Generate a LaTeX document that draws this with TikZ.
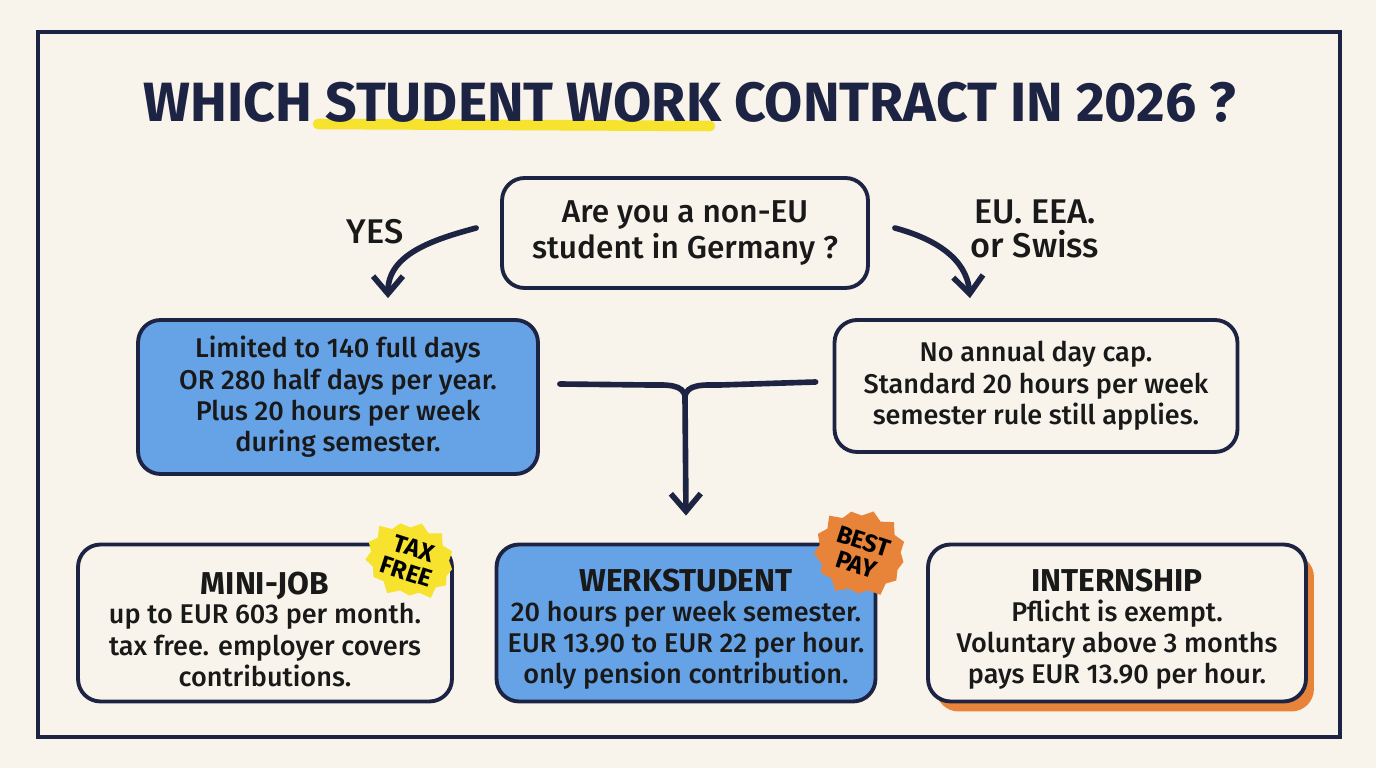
\documentclass[tikz,border=0pt]{standalone}
\usepackage{fontspec}
\setmainfont{Fira Sans}[UprightFont={* Medium}, BoldFont={* Bold}]
\usetikzlibrary{positioning,arrows.meta,shapes.symbols,shadows}

\definecolor{paper}{HTML}{F8F4EB}
\definecolor{ink}{HTML}{1D2342}
\definecolor{skyblue}{HTML}{66A2E6}
\definecolor{marker}{HTML}{F7E22E}
\definecolor{tangerine}{HTML}{E8843A}

\newcommand{\bodyfont}{\fontsize{15.4}{17.8}\selectfont}
\newcommand{\headfont}{\fontsize{18}{20}\selectfont\bfseries\rule{0pt}{20pt}}

\tikzset{
  card/.style={draw=ink, line width=2.2pt, rounded corners=.45cm, align=center,
    text=black!90, font=\bodyfont, inner sep=0pt},
  bluecard/.style={card, fill=skyblue},
  tag/.style={align=center, text=black!90, font=\fontsize{19.5}{19.5}\selectfont},
  flow/.style={draw=ink, line width=3.2pt, line cap=round,
    -{Straight Barb[length=10pt, width=17pt]}},
  merge/.style={draw=ink, line width=3.2pt, line cap=round},
  badge/.style={starburst, starburst points=13, starburst point height=.18cm,
    align=center, inner sep=1pt, font=\fontsize{14}{14}\selectfont\bfseries}
}

\begin{document}
\begin{tikzpicture}[x=0.02cm, y=0.02cm]
  % 1. paper and frame
  \fill[paper] (0,0) rectangle (1376,768);
  \useasboundingbox (0,0) rectangle (1376,768);
  \draw[ink, line width=2.4pt] (38,736) rectangle (1340,31);

  % 2. title with marker stroke
  \draw[marker, line width=6pt, line cap=round] (318,644) -- (710,642);
  \node[text=ink, font=\fontsize{31.5}{34}\selectfont\bfseries] (title) at (690,666)
    {WHICH STUDENT WORK CONTRACT IN 2026 ?};

  % 3. question and the two answers
  \node[card, font=\fontsize{18}{20.5}\selectfont, minimum width=7.32cm, minimum height=2.2cm] (q) at (685,535)
    {Are you a non-EU\\student in Germany ?};
  \node[tag] (yes) at (375,536) {YES};
  \node[tag] (other) at (1035,539) {EU. EEA.\\or Swiss};

  \node[bluecard, minimum width=8cm, minimum height=3.08cm] (nonEU) at (338,371)
    {Limited to 140 full days\\OR 280 half days per year.\\Plus 20 hours per week\\during semester.};
  \node[card, minimum width=8.06cm, minimum height=2.64cm] (eu) at (1036,382)
    {No annual day cap.\\Standard 20 hours per week\\semester rule still applies.};

  % 4. contract types
  \node[card, minimum width=7.48cm, minimum height=3.14cm] (mini) at (265,145)
    {{\headfont MINI-JOB}\\[-1pt]up to EUR 603 per month.\\tax free. employer covers\\contributions.};
  \node[bluecard, minimum width=7.58cm, minimum height=3.14cm] (werk) at (686,145)
    {{\headfont WERKSTUDENT}\\[-1pt]20 hours per week semester.\\EUR 13.90 to EUR 22 per hour.\\only pension contribution.};
  \node[card, fill=paper, minimum width=7.56cm, minimum height=3.14cm,
    drop shadow={shadow xshift=.16cm, shadow yshift=-.2cm, fill=tangerine, opacity=1}]
    (intern) at (1117,145)
    {{\headfont INTERNSHIP}\\[-1pt]Pflicht is exempt.\\Voluntary above 3 months\\pays EUR 13.90 per hour.};

  % 5. badges
  \node[badge, fill=marker, minimum size=1.6cm, rotate=-18] (taxfree) at (410,208) {TAX\\FREE};
  \node[badge, fill=tangerine, minimum size=1.85cm, rotate=-18] (bestpay) at (860,215) {BEST\\PAY};

  % 6. arrows
  \draw[flow] ([xshift=-.48cm, yshift=.1cm]q.west) to[out=195, in=90]
    ([xshift=1cm, yshift=.4cm]nonEU.north);
  \draw[flow] ([xshift=.5cm, yshift=.1cm]q.east) to[out=-15, in=95]
    ([xshift=-1.32cm, yshift=.4cm]eu.north);

  \coordinate (join) at (685,370);
  \draw[merge] ([xshift=.4cm, yshift=.26cm]nonEU.east) -- (650,383) to[out=0, in=90] (join);
  \draw[merge] ([xshift=-.34cm, yshift=.08cm]eu.west) -- (720,383) to[out=180, in=90] (join);
  \draw[flow] (join) -- ([yshift=.54cm]werk.north);
\end{tikzpicture}
\end{document}
